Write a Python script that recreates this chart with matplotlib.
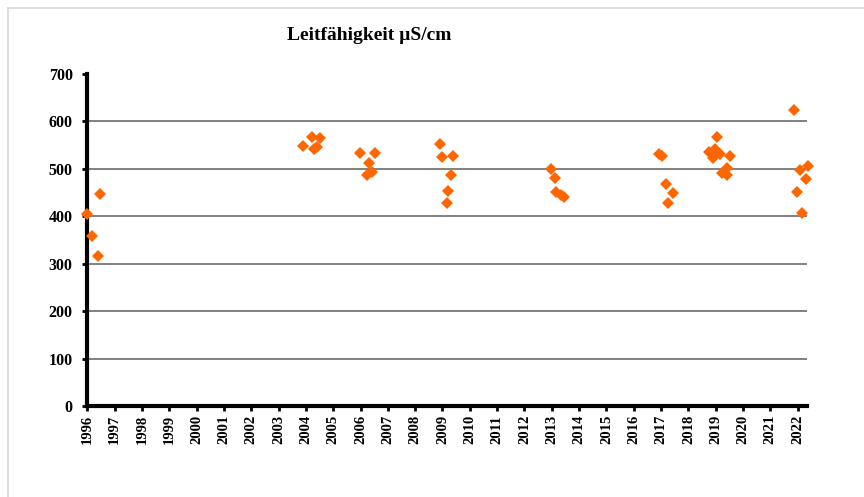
import matplotlib
matplotlib.use("Agg")
import matplotlib.pyplot as plt
from matplotlib.lines import Line2D

# Data: decimal year of sampling and conductivity (µS/cm)
years = [1996.00, 1996.16, 1996.38, 1996.48,
         2003.88, 2004.22, 2004.50, 2004.31, 2004.41,
         2005.97, 2006.52, 2006.30, 2006.22, 2006.43,
         2008.90, 2008.98, 2009.39, 2009.31, 2009.22, 2009.18,
         2012.98, 2013.10, 2013.17, 2013.33, 2013.45,
         2016.93, 2017.05, 2017.19, 2017.42, 2017.27,
         2019.05, 2018.75, 2018.99, 2018.91, 2019.15, 2019.54, 2019.42, 2019.24, 2019.40,
         2021.86, 2022.10, 2022.37, 2022.29, 2021.96, 2022.14]
values = [405, 359, 317, 447,
          548, 568, 566, 541, 546,
          533, 533, 512, 487, 494,
          552, 526, 527, 488, 453, 429,
          499, 480, 452, 446, 441,
          531, 528, 469, 450, 429,
          568, 536, 543, 524, 531, 527, 501, 491, 487,
          624, 497, 506, 478, 452, 407]
year_ticks = list(range(1996, 2023))
y_ticks = list(range(0, 701, 100))
title = "Leitfähigkeit µS/cm"

plt.rcParams['font.family'] = ['Liberation Serif', 'DejaVu Serif']

fig = plt.figure(figsize=(8.64, 4.97), dpi=100)
ax = fig.add_axes([0.101, 0.183, 0.833, 0.668])

ax.plot(years, values, linestyle='none', marker='D', markersize=6.5,
        color='#FF6600', markeredgewidth=0, clip_on=False, zorder=3)

ax.set_xlim(1996, 2022.34)
ax.set_ylim(0, 700)
ax.set_xticks(year_ticks)
ax.set_xticklabels([str(y) for y in year_ticks], rotation=90,
                   fontsize=10.5, fontweight='bold')
ax.set_yticks(y_ticks)
ax.set_yticklabels([str(v) for v in y_ticks], fontsize=11.5, fontweight='bold')

ax.yaxis.grid(True, color='#777777', linewidth=1.3)
gl = ax.yaxis.get_gridlines()
gl[0].set_visible(False)
gl[-1].set_visible(False)
ax.set_axisbelow(True)

for s in ['top', 'right']:
    ax.spines[s].set_visible(False)
ax.spines['left'].set_linewidth(3)
ax.spines['bottom'].set_linewidth(3)
ax.tick_params(axis='both', direction='out', length=3.5, width=2, color='black')
ax.tick_params(axis='y', pad=7)
ax.tick_params(axis='x', pad=3)

fig.text(0.427, 0.928, title, ha='center', va='center',
         fontsize=14, fontweight='bold')

# light frame lines at top and left
fig.add_artist(Line2D([8/864, 1], [1-8/497, 1-8/497], color='#d8d8d8', linewidth=1.2))
fig.add_artist(Line2D([8/864, 8/864], [0, 1-8/497], color='#d8d8d8', linewidth=1.2))

fig.savefig("out.png", dpi=100)
